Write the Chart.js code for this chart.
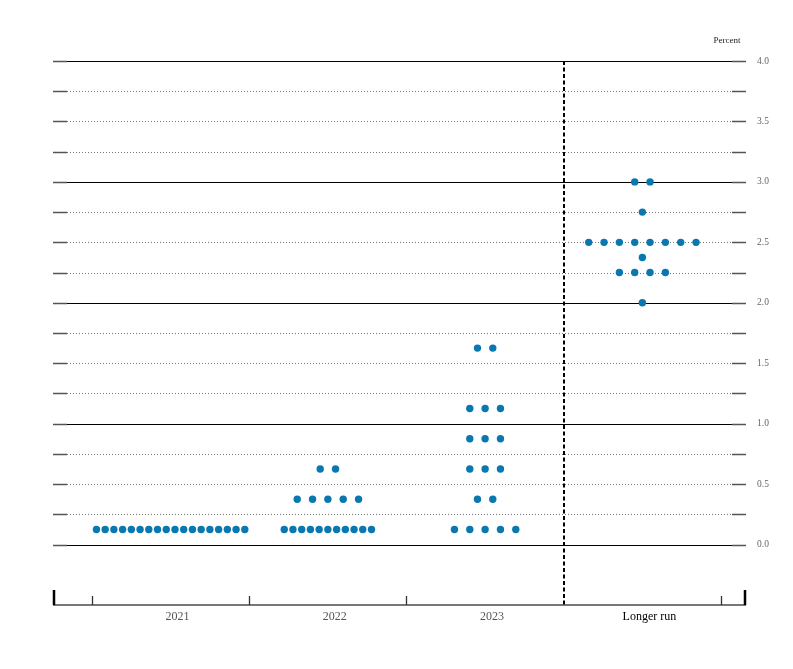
<!DOCTYPE html>
<html>
<head>
<meta charset="utf-8">
<script src="https://cdn.jsdelivr.net/npm/chart.js@4"></script>
<style>
html,body{margin:0;padding:0;background:#fff;}
#wrap{width:793px;height:669px;}
</style>
</head>
<body>
<div id="wrap"><canvas id="c" width="793" height="669"></canvas></div>
<script>
// ---- data ----
const categories = ['2021', '2022', '2023', 'Longer run'];
const rates2021 = [0.125];
const counts2021 = [18];
const rates2022 = [0.125, 0.375, 0.625];
const counts2022 = [11, 5, 2];
const rates2023 = [0.125, 0.375, 0.625, 0.875, 1.125, 1.625];
const counts2023 = [5, 2, 3, 3, 3, 2];
const ratesLR = [2.0, 2.25, 2.375, 2.5, 2.75, 3.0];
const countsLR = [1, 4, 1, 8, 1, 2];
const yTickValues = [0, 0.5, 1, 1.5, 2, 2.5, 3, 3.5, 4];

const columns = [
  [rates2021, counts2021],
  [rates2022, counts2022],
  [rates2023, counts2023],
  [ratesLR, countsLR]
];

// build dot points: each participant is one dot, spread side by side around the column centre
const points = [];
columns.forEach(([rates, counts], ci) => {
  rates.forEach((r, ri) => {
    const n = counts[ri];
    const step = n > 8 ? 0.0555 : 0.0975;
    for (let j = 0; j < n; j++) {
      points.push({x: ci + (j - (n - 1) / 2) * step, y: r});
    }
  });
});

const decor = {
  id: 'decor',
  beforeDatasetsDraw(chart) {
    const {ctx, chartArea: a, scales: {x, y}} = chart;
    ctx.save();
    const L = a.left, R = a.right, T = 14;
    for (let k = 0; k <= 16; k++) {
      const v = k * 0.25;
      const py = Math.round(y.getPixelForValue(v)) + 0.5;
      // end ticks
      ctx.strokeStyle = '#555';
      ctx.lineWidth = 1.3;
      ctx.setLineDash([]);
      ctx.beginPath();
      ctx.moveTo(L, py); ctx.lineTo(L + T, py);
      ctx.moveTo(R - T, py); ctx.lineTo(R, py);
      ctx.stroke();
      ctx.beginPath();
      if (k % 4 === 0) {
        ctx.strokeStyle = '#000';
        ctx.lineWidth = 1.2;
        ctx.moveTo(L + T, py); ctx.lineTo(R - T, py);
      } else {
        ctx.strokeStyle = '#777';
        ctx.lineWidth = 1;
        ctx.setLineDash([1, 2]);
        ctx.moveTo(L + T, py); ctx.lineTo(R - T, py);
      }
      ctx.stroke();
    }
    ctx.setLineDash([]);
    // bottom axis
    const by = a.bottom;
    ctx.strokeStyle = '#777';
    ctx.lineWidth = 2;
    ctx.beginPath(); ctx.moveTo(L, by); ctx.lineTo(R, by); ctx.stroke();
    ctx.strokeStyle = '#000';
    ctx.lineWidth = 2.5;
    ctx.beginPath();
    ctx.moveTo(L + 1, by); ctx.lineTo(L + 1, by - 15);
    ctx.moveTo(R - 1, by); ctx.lineTo(R - 1, by - 15);
    ctx.stroke();
    ctx.strokeStyle = '#333';
    ctx.lineWidth = 1.3;
    ctx.beginPath();
    [-0.5, 0.5, 1.5, 3.5].forEach(v => {
      const px = Math.round(x.getPixelForValue(v)) + 0.5;
      ctx.moveTo(px, by); ctx.lineTo(px, by - 9);
    });
    ctx.stroke();
    // dashed separator before longer run
    const sx = Math.round(x.getPixelForValue(2.5));
    ctx.strokeStyle = '#000';
    ctx.lineWidth = 2;
    ctx.setLineDash([4, 2.5]);
    ctx.beginPath(); ctx.moveTo(sx, a.top); ctx.lineTo(sx, by); ctx.stroke();
    ctx.setLineDash([]);
    // unit label
    ctx.fillStyle = '#222';
    ctx.font = '9px "Liberation Serif"';
    ctx.textAlign = 'center';
    ctx.textBaseline = 'middle';
    ctx.fillText('Percent', R - 19, a.top - 20);
    ctx.restore();
  }
};

new Chart(document.getElementById('c'), {
  type: 'scatter',
  data: {
    datasets: [{
      data: points,
      backgroundColor: '#0a78b0',
      borderColor: '#0a78b0',
      borderWidth: 0,
      pointRadius: 3.7,
      pointHoverRadius: 3.7
    }]
  },
  options: {
    responsive: false,
    animation: false,
    devicePixelRatio: 1,
    layout: {padding: {left: 53, top: 61, right: 0, bottom: 0}},
    plugins: {legend: {display: false}, tooltip: {enabled: false}},
    scales: {
      x: {
        type: 'linear',
        min: -0.748,
        max: 3.659,
        grid: {display: false, drawTicks: false},
        border: {display: false},
        afterBuildTicks: s => { s.ticks = categories.map((c, i) => ({value: i})); },
        afterFit: s => { s.height = 64; },
        ticks: {
          padding: 5,
          labelOffset: 7,
          autoSkip: false,
          maxRotation: 0,
          font: {family: '"Liberation Serif"', size: 12},
          color: ctx => ctx.index === 3 ? '#000' : '#555',
          callback: v => categories[v]
        }
      },
      y: {
        type: 'linear',
        position: 'right',
        min: -0.5,
        max: 4,
        grid: {display: false, drawTicks: false},
        border: {display: false},
        afterBuildTicks: s => { s.ticks = yTickValues.map(v => ({value: v})); },
        afterFit: s => { s.width = 47; },
        ticks: {
          padding: 11,
          font: {family: '"Liberation Serif"', size: 9.5},
          color: '#666',
          callback: v => v.toFixed(1)
        }
      }
    }
  },
  plugins: [decor]
});
</script>
</body>
</html>
